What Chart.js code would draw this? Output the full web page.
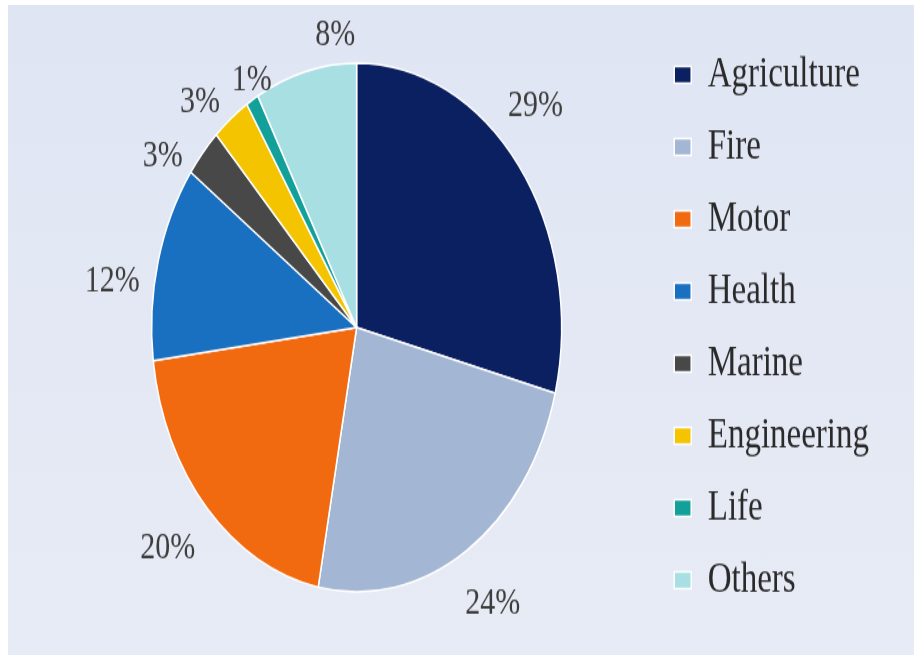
<!DOCTYPE html>
<html>
<head>
<meta charset="utf-8">
<script src="https://cdn.jsdelivr.net/npm/chart.js@4/dist/chart.umd.min.js"></script>
<style>
  html, body { margin: 0; padding: 0; background: #ffffff; }
  #panel {
    position: absolute; left: 8px; top: 5px; width: 906px; height: 650px;
    background: linear-gradient(#dfe5f3, #e7ebf5);
  }
  #pie { position: absolute; left: 0; top: 0; }
</style>
</head>
<body>
<div id="panel"></div>
<!-- drawn at 914x508 and stretched to 914x655 like the source image -->
<canvas id="pie" width="914" height="508" style="width:914px;height:655px"></canvas>
<script>
const categories = ['Agriculture', 'Fire', 'Motor', 'Health', 'Marine', 'Engineering', 'Life', 'Others'];
const shares = [29, 24, 20, 12, 3, 3, 1, 8];
const sliceColors = ['#0b2060', '#a3b6d3', '#f26a10', '#1a70c0', '#484848', '#f5c400', '#14a09a', '#a8dfe3'];

// label placement tweaks (Excel "best fit" moves some labels off the slice middle)
const labelAngleShift = [-6, 0, 1, -6, -7, -4, 2, 9];   // degrees
const labelGap = [43, 49, 50, 42, 30, 30, 14, 23];       // px beyond the rim

// percent labels just outside each slice
const outsideLabels = {
  id: 'outsideLabels',
  afterDatasetsDraw(chart) {
    const ctx = chart.ctx;
    const meta = chart.getDatasetMeta(0);
    ctx.save();
    ctx.font = '30px "Liberation Serif"';
    ctx.fillStyle = '#3d3d3d';
    ctx.textAlign = 'center';
    ctx.textBaseline = 'middle';
    meta.data.forEach((arc, i) => {
      const p = arc.getProps(['x', 'y', 'startAngle', 'endAngle', 'outerRadius'], true);
      const mid = (p.startAngle + p.endAngle) / 2 + labelAngleShift[i] * Math.PI / 180;
      const r = p.outerRadius + labelGap[i];
      ctx.fillText(shares[i] + '%', p.x + Math.cos(mid) * r, p.y + Math.sin(mid) * r);
    });
    ctx.restore();
  }
};

const ctx = document.getElementById('pie').getContext('2d');
new Chart(ctx, {
  type: 'pie',
  data: {
    labels: categories,
    datasets: [{
      data: shares,
      backgroundColor: sliceColors,
      borderColor: '#ffffff',
      borderWidth: 1.5,
      radius: 205
    }]
  },
  options: {
    responsive: false,
    devicePixelRatio: 1,
    animation: false,
    layout: { padding: { left: 62, right: 35 } },
    plugins: {
      tooltip: { enabled: false },
      legend: {
        position: 'right',
        labels: {
          boxWidth: 17,
          boxHeight: 13,
          padding: 23,
          color: '#2a2a2a',
          font: { family: '"Liberation Serif"', size: 33, lineHeight: 1.2 }
        }
      }
    }
  },
  plugins: [outsideLabels]
});
</script>
</body>
</html>
